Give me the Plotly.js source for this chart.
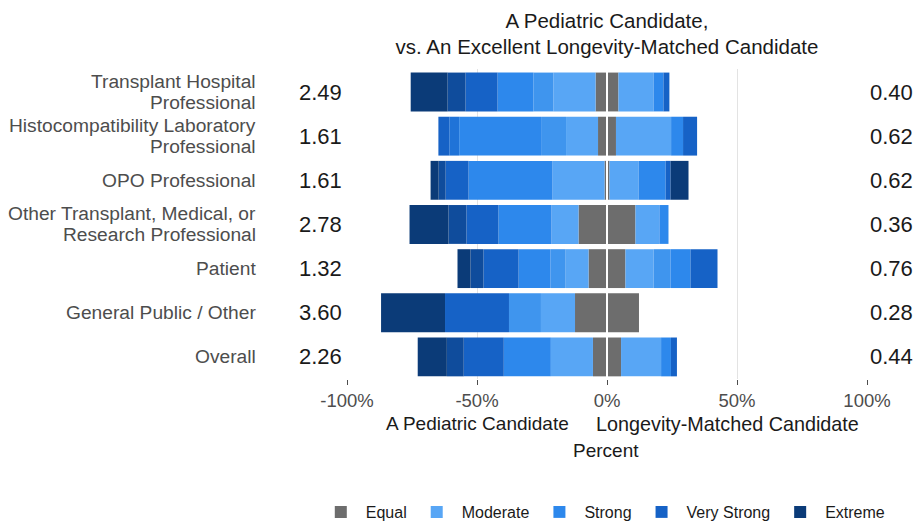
<!DOCTYPE html>
<html>
<head>
<meta charset="utf-8">
<script src="https://cdn.plot.ly/plotly-3.0.1.min.js"></script>
<style>html,body{margin:0;padding:0;background:#fff;}#chart{width:915px;height:525px;}</style>
</head>
<body>
<div id="chart"></div>
<script>
// ---- data (percent of respondents) ----
const categories = [
  "Transplant Hospital<br>Professional",
  "Histocompatibility Laboratory<br>Professional",
  "OPO Professional",
  "Other Transplant, Medical, or<br>Research Professional",
  "Patient",
  "General Public / Other",
  "Overall"
];
const leftNumbers  = ["2.49", "1.61", "1.61", "2.78", "1.32", "3.60", "2.26"];
const rightNumbers = ["0.40", "0.62", "0.62", "0.36", "0.76", "0.28", "0.44"];

// intensity levels of the 1-9 comparison scale
const levelNames  = ["Equal", "Moderate", "4", "Strong", "6", "Very Strong", "8", "Extreme"];
const levelInLegend = [true, true, false, true, false, true, false, true];
const levelColors = ["#6d6d6d", "#58a6f5", "#3f95ee", "#2d88ec", "#1f73d8", "#1662c6", "#0f4c9c", "#0b3b78"];

// Equal (split half on each side)
const equalPct = [8.8, 6.9, 1.9, 21.9, 14.2, 24.6, 10.8];

// favouring "A Pediatric Candidate" (left side)
const pedModerate   = [16.2, 12.3, 20.0, 10.4, 8.8, 13.1, 16.2];
const ped4          = [7.7, 9.6, 0, 0, 5.8, 12.3, 0];
const pedStrong     = [13.8, 31.5, 32.3, 20.4, 12.3, 0, 18.1];
const ped6          = [0, 3.8, 0, 0, 0, 0, 0];
const pedVeryStrong = [12.3, 4.2, 8.8, 12.3, 13.5, 24.6, 15.4];
const ped8          = [6.9, 0, 2.7, 6.9, 5.0, 0, 6.5];
const pedExtreme    = [14.2, 0, 3.1, 15.0, 5.0, 24.6, 11.2];

// favouring "Longevity-Matched Candidate" (right side)
const lonModerate   = [13.5, 21.2, 11.2, 9.2, 10.8, 0, 15.4];
const lon4          = [0, 0, 0, 0, 6.5, 0, 0];
const lonStrong     = [3.8, 4.6, 10.4, 3.5, 7.7, 0, 3.8];
const lon6          = [0, 0, 0, 0, 0, 0, 0];
const lonVeryStrong = [2.3, 5.4, 1.9, 0, 10.4, 0, 2.3];
const lon8          = [0, 0, 0, 0, 0, 0, 0];
const lonExtreme    = [0, 0, 6.9, 0, 0, 0, 0];

const tickVals  = [-100, -50, 0, 50, 100];
const tickTexts = ["-100%", "-50%", "0%", "50%", "100%"];

// ---- build traces ----
const leftSets  = [equalPct.map(v => v / 2), pedModerate, ped4, pedStrong, ped6, pedVeryStrong, ped8, pedExtreme];
const rightSets = [equalPct.map(v => v / 2), lonModerate, lon4, lonStrong, lon6, lonVeryStrong, lon8, lonExtreme];

const FONT = '"Liberation Sans", Arial, Helvetica, sans-serif';
const traces = [];
levelNames.forEach((name, i) => {
  traces.push({
    type: 'bar', orientation: 'h', name: name,
    y: categories, x: leftSets[i].map(v => -v),
    marker: {color: levelColors[i], line: {width: 0}},
    legendgroup: name, showlegend: levelInLegend[i], hoverinfo: 'skip'
  });
  traces.push({
    type: 'bar', orientation: 'h', name: name,
    y: categories, x: rightSets[i],
    marker: {color: levelColors[i], line: {width: 0}},
    legendgroup: name, showlegend: false, hoverinfo: 'skip'
  });
});

const annotations = [];
const LINE_H = 21;
categories.forEach((c, i) => {
  // category label, one annotation per line for tighter line spacing
  const lines = c.split('<br>');
  lines.forEach((ln, k) => {
    annotations.push({xref: 'paper', yref: 'y', x: -0.171, y: c, xanchor: 'right', yanchor: 'middle',
      yshift: ((lines.length - 1) / 2 - k) * LINE_H,
      text: ln, showarrow: false, font: {family: FONT, size: 19.2, color: '#4d4d4d'}});
  });
  annotations.push({xref: 'paper', yref: 'y', x: -0.006, y: c, xanchor: 'right', yanchor: 'middle',
    text: leftNumbers[i], showarrow: false, font: {family: FONT, size: 22, color: '#1a1a1a'}});
  annotations.push({xref: 'paper', yref: 'y', x: 1.001, y: c, xanchor: 'left', yanchor: 'middle',
    text: rightNumbers[i], showarrow: false, font: {family: FONT, size: 22, color: '#1a1a1a'}});
});
annotations.push({xref: 'x', yref: 'paper', x: -50, y: -0.145, xanchor: 'center', yanchor: 'middle',
  text: 'A Pediatric Candidate', showarrow: false, font: {family: FONT, size: 19, color: '#1a1a1a'}});
annotations.push({xref: 'x', yref: 'paper', x: 46.5, y: -0.145, xanchor: 'center', yanchor: 'middle',
  text: 'Longevity-Matched Candidate', showarrow: false, font: {family: FONT, size: 19.8, color: '#1a1a1a'}});
annotations.push({xref: 'x', yref: 'paper', x: -0.5, y: -0.232, xanchor: 'center', yanchor: 'middle',
  text: 'Percent', showarrow: false, font: {family: FONT, size: 19, color: '#1a1a1a'}});

const layout = {
  width: 915, height: 525,
  margin: {l: 347, r: 48, t: 69, b: 146, autoexpand: false},
  paper_bgcolor: '#ffffff', plot_bgcolor: '#ffffff',
  font: {family: FONT, color: '#4d4d4d'},
  barmode: 'relative', bargap: 0.12,
  title: {
    text: 'A Pediatric Candidate,<br>vs. An Excellent Longevity-Matched Candidate',
    x: 0.5, xref: 'paper', y: 0.947, yref: 'container', yanchor: 'top',
    font: {family: FONT, size: 20.5, color: '#1a1a1a'}
  },
  xaxis: {
    range: [-100, 100], tickvals: tickVals, ticktext: tickTexts,
    showgrid: true, gridcolor: '#e3e3e3', gridwidth: 1,
    zeroline: false, showline: false,
    ticks: 'outside', ticklen: 5, tickcolor: '#4d4d4d',
    ticklabelstandoff: 0,
    tickfont: {family: FONT, size: 18.5, color: '#4d4d4d'},
    fixedrange: true
  },
  yaxis: {
    type: 'category', autorange: 'reversed',
    showgrid: false, zeroline: false, showline: false, ticks: '',
    showticklabels: false,
    fixedrange: true
  },
  shapes: [{type: 'line', xref: 'x', yref: 'paper', x0: 0, x1: 0, y0: 0, y1: 1,
    line: {color: '#ffffff', width: 2}, layer: 'above'}],
  annotations: annotations,
  showlegend: true,
  legend: {
    orientation: 'h', x: -0.06, xanchor: 'left', xref: 'paper',
    y: -0.429, yref: 'paper', yanchor: 'middle',
    itemwidth: 40,
    font: {family: FONT, size: 16, color: '#1a1a1a'},
    traceorder: 'normal', itemclick: false, itemdoubleclick: false
  }
};

Plotly.newPlot('chart', traces, layout, {displayModeBar: false, staticPlot: true});
</script>
</body>
</html>
